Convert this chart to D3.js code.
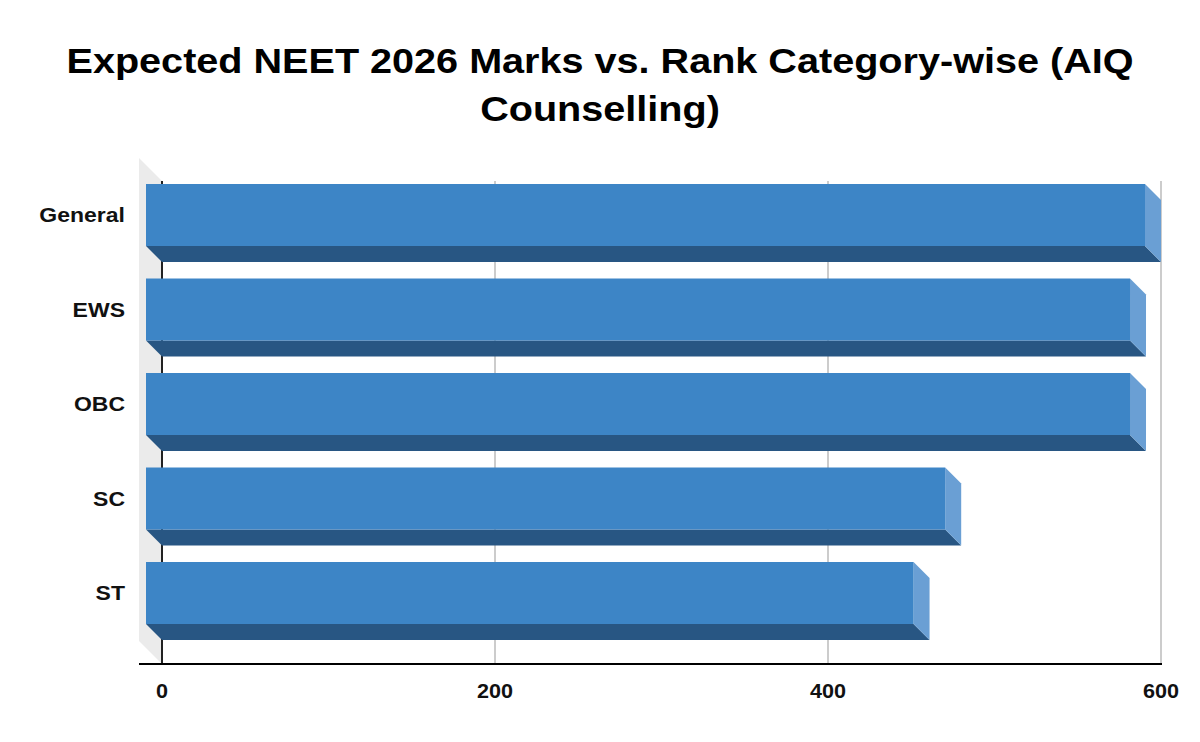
<!DOCTYPE html>
<html>
<head>
<meta charset="utf-8">
<script src="https://cdn.jsdelivr.net/npm/d3@7"></script>
<style>
  body { margin: 0; background: #fff; }
  text { font-family: Arial, "Liberation Sans", sans-serif; }
</style>
</head>
<body>
<script>
// Data
const categories = ["General", "EWS", "OBC", "SC", "ST"];
const marks = [600, 591, 591, 480, 461];
const ticks = [0, 200, 400, 600];
const titleLines = ["Expected NEET 2026 Marks vs. Rank Category-wise (AIQ", "Counselling)"];

const width = 1200;
const height = 742;
const depth = 16;      // bar depth offset
const wallDepth = 23;  // wall depth offset

const svg = d3.select("body").append("svg")
    .attr("width", width)
    .attr("height", height);

// Title (source text is slightly wider than Arial, so stretch a bit)
svg.append("g").selectAll("text")
    .data(titleLines)
    .join("text")
    .attr("transform", (d, i) => `translate(${width / 2},${73 + i * 48}) scale(1.1,1)`)
    .attr("text-anchor", "middle")
    .attr("font-size", 36)
    .attr("font-weight", "bold")
    .attr("fill", "#000")
    .text(d => d);

// Scales (back plane)
const x = d3.scaleLinear().domain([0, 600]).range([162, 1161]);
const plotTop = 181, plotBottom = 664;

const y = d3.scaleBand()
    .domain(categories)
    .range([167.75, 640.25])
    .paddingInner(0.344)
    .paddingOuter(0.172);

// Wall on the left
svg.append("path")
    .attr("d", `M${x(0) - wallDepth},${plotTop - wallDepth} L${x(0)},${plotTop} L${x(0)},${plotBottom} L${x(0) - wallDepth},${plotBottom - wallDepth} Z`)
    .attr("fill", "#ebebeb");

// Gridlines
svg.append("g").selectAll("line")
    .data(ticks.slice(1))
    .join("line")
    .attr("x1", d => x(d))
    .attr("x2", d => x(d))
    .attr("y1", plotTop)
    .attr("y2", plotBottom)
    .attr("stroke", "#cccccc")
    .attr("stroke-width", 2);

// Zero line and base axis
svg.append("line")
    .attr("x1", x(0)).attr("x2", x(0))
    .attr("y1", plotTop).attr("y2", plotBottom)
    .attr("stroke", "#222").attr("stroke-width", 2);

svg.append("line")
    .attr("x1", x(0) - wallDepth).attr("x2", x(600) + 1)
    .attr("y1", plotBottom).attr("y2", plotBottom)
    .attr("stroke", "#000").attr("stroke-width", 2);

// Bars (front face shifted up-left by depth)
const bar = svg.append("g").selectAll("g")
    .data(categories.map((c, i) => ({ cat: c, value: marks[i] })))
    .join("g");

const fx0 = x(0) - depth;
const fx = d => x(d.value) - depth;
const fy = d => y(d.cat);
const bh = y.bandwidth();

// bottom face
bar.append("path")
    .attr("d", d => `M${fx0},${fy(d) + bh} L${fx(d)},${fy(d) + bh} L${fx(d) + depth},${fy(d) + bh + depth} L${fx0 + depth},${fy(d) + bh + depth} Z`)
    .attr("fill", "#285683");

// right side face
bar.append("path")
    .attr("d", d => `M${fx(d)},${fy(d)} L${fx(d) + depth},${fy(d) + depth} L${fx(d) + depth},${fy(d) + bh + depth} L${fx(d)},${fy(d) + bh} Z`)
    .attr("fill", "#6a9fd4");

// front face
bar.append("rect")
    .attr("x", fx0)
    .attr("y", d => fy(d))
    .attr("width", d => fx(d) - fx0)
    .attr("height", bh)
    .attr("fill", "#3d85c6");

// Category labels
svg.append("g").selectAll("text")
    .data(categories)
    .join("text")
    .attr("transform", d => `translate(125,${y(d) + bh / 2 + 7}) scale(1.15,1)`)
    .attr("text-anchor", "end")
    .attr("font-size", 20)
    .attr("font-weight", "bold")
    .attr("fill", "#111")
    .text(d => d);

// Value axis labels
svg.append("g").selectAll("text")
    .data(ticks)
    .join("text")
    .attr("transform", d => `translate(${x(d)},698) scale(1.08,1)`)
    .attr("text-anchor", "middle")
    .attr("font-size", 20)
    .attr("font-weight", "bold")
    .attr("fill", "#111")
    .text(d => d);
</script>
</body>
</html>
